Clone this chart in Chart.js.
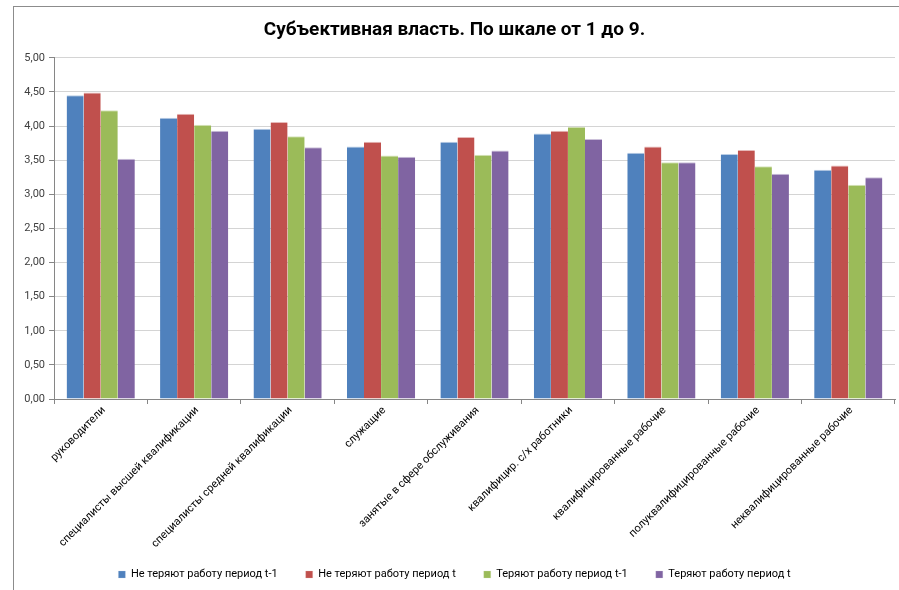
<!DOCTYPE html>
<html>
<head>
<meta charset="utf-8">
<script src="https://cdn.jsdelivr.net/npm/chart.js@4/dist/chart.umd.min.js"></script>
<style>
    html, body { margin: 0; padding: 0; background: #fff; }
    .frame {
        position: absolute; left: 13px; top: 6px;
        width: 886px; height: 584px;
        border-left: 1px solid #8c8c8c; border-top: 1px solid #8c8c8c;
    }
    .frame canvas { display: block; }
</style>
</head>
<body>
<div class="frame"><canvas id="chart"></canvas></div>
<script>
const categories = [
    "руководители",
    "специалисты высшей квалификации",
    "специалисты средней квалификации",
    "служащие",
    "занятые в сфере обслуживания",
    "квалифицир. с/х работники",
    "квалифицированные рабочие",
    "полуквалифицированные рабочие",
    "неквалифицированные рабочие"
];
const seriesNames = [
    "Не теряют работу период t-1",
    "Не теряют работу период t",
    "Теряют работу период t-1",
    "Теряют работу период t"
];
const keepPrev = [4.45, 4.12, 3.96, 3.70, 3.77, 3.89, 3.61, 3.59, 3.36];
const keepCur  = [4.49, 4.18, 4.06, 3.77, 3.84, 3.93, 3.70, 3.65, 3.42];
const losePrev = [4.23, 4.02, 3.85, 3.57, 3.58, 3.99, 3.47, 3.41, 3.14];
const loseCur  = [3.52, 3.93, 3.69, 3.55, 3.64, 3.81, 3.47, 3.30, 3.25];
const yMin = 0, yMax = 5, yStep = 0.5;

const colors = ["#4F81BD", "#C0504D", "#9BBB59", "#8064A2"];
const edges  = ["#B9CDE5", "#E6B9B8", "#D7E4BD", "#CCC1DA"];
const values = [keepPrev, keepCur, losePrev, loseCur];

Chart.defaults.font.family = "Roboto, 'Liberation Sans', sans-serif";
Chart.defaults.color = "#404040";

new Chart(document.getElementById("chart"), {
    type: "bar",
    data: {
        labels: categories,
        datasets: seriesNames.map((name, i) => ({
            label: name,
            data: values[i],
            backgroundColor: colors[i],
            borderColor: edges[i],
            borderWidth: { top: 1, left: 0, right: 0, bottom: 0 },
            categoryPercentage: 0.73,
            barPercentage: 1.0
        }))
    },
    options: {
        responsive: true, maintainAspectRatio: false, animation: false,
        layout: { padding: { left: 0, right: 5, top: 0, bottom: 1 } },
        plugins: {
            title: {
                display: true,
                text: "Субъективная власть. По шкале от 1 до 9.",
                color: "#000",
                font: { size: 19, weight: "bold" },
                padding: { top: 12, bottom: 16 }
            },
            legend: {
                position: "bottom",
                labels: { boxWidth: 7, boxHeight: 7, padding: 28, color: "#000", font: { size: 11 } }
            },
            tooltip: { enabled: false }
        },
        scales: {
            x: {
                grid: { drawOnChartArea: false, tickLength: 5, color: "#868686" },
                border: { color: "#868686" },
                ticks: { maxRotation: 45, minRotation: 45, color: "#000", font: { size: 11 }, padding: 0, labelOffset: 3 },
                afterFit: s => {
                    s.height = 142;
                    // long rotated labels may run a little past the axis box
                    s._computeLabelArea = () => undefined;
                }
            },
            y: {
                min: yMin, max: yMax,
                grid: { color: "#d4d4d4", tickLength: 5, tickColor: "#868686" },
                border: { color: "#868686" },
                ticks: {
                    stepSize: yStep, padding: 4, font: { size: 11 },
                    callback: v => v.toFixed(2).replace(".", ",")
                },
                afterFit: s => { s.width = 40; }
            }
        }
    }
});
</script>
</body>
</html>
